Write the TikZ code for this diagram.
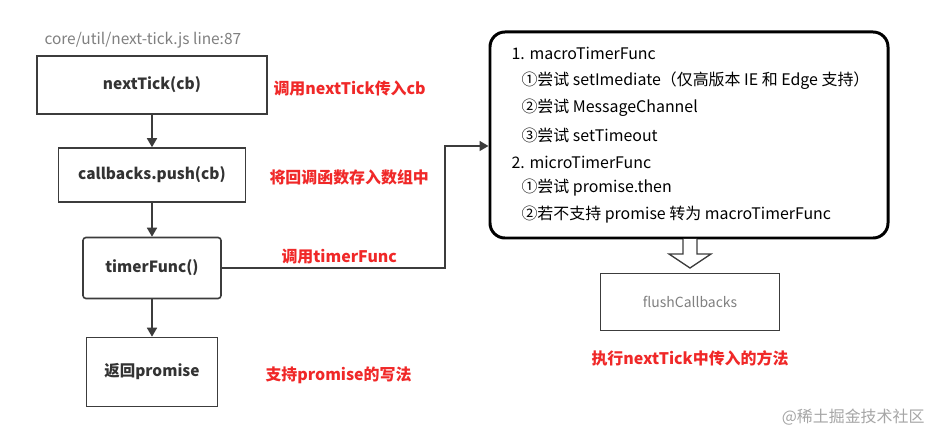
\documentclass[tikz,border=0pt]{standalone}
\usepackage{fontspec}
\setmainfont{Noto Sans CJK SC}
\usetikzlibrary{arrows.meta}
\definecolor{lblred}{RGB}{240,40,40}
\definecolor{boxline}{RGB}{60,60,60}
\tikzset{
  flow/.style={draw=boxline,line width=1.6pt,minimum height=#1,inner sep=0pt,font=\fontsize{15.5}{17}\selectfont\bfseries,text=black!80},
  red/.style={text=lblred,font=\fontsize{16}{18}\selectfont\bfseries,anchor=west},
  arr/.style={draw=boxline,line width=1.6pt,-{Triangle[length=9pt,width=10pt]}},
  item/.style={anchor=west,font=\fontsize{16}{18}\selectfont,text=black}
}
\begin{document}
\begin{tikzpicture}[x=1bp,y=-1bp]
\useasboundingbox[fill=white] (0,0) rectangle (939,444);
\node[anchor=west,text=gray,font=\fontsize{15.5}{17}\selectfont] (hdr) at (41,40) {core/util/next-tick.js line:87};
\node[flow=58bp,minimum width=230bp] (a) at (152,85) {nextTick(cb)};
\node[flow=54bp,minimum width=187bp] (b) at (152,175) {callbacks.push(cb)};
\node[flow=61bp,minimum width=138bp,rounded corners=3pt] (c) at (152,268) {timerFunc()};
\node[flow=69bp,minimum width=131bp] (d) at (152,372) {返回promise};
\draw[arr] (a) -- (b);
\draw[arr] (b) -- (c);
\draw[arr] (c) -- (d);
\node[red] (la) at (270,88) {调用nextTick传入cb};
\node[red] (lb) at (266,177) {将回调函数存入数组中};
\node[red] (lc) at (278,257) {调用timerFunc};
\node[red] (ld) at (262,375) {支持promise的写法};
\node[draw=black,line width=3pt,rounded corners=15pt,minimum width=398bp,minimum height=206bp] (big) at (689,135) {};
\coordinate (turn) at (445,146);
\draw[arr] (c.east) -- (c.east -| turn) -- (turn) -- (big.west |- turn);
\node[item] at (508,53) {1. macroTimerFunc};
\node[item] at (518,81) {①尝试 setImediate（仅高版本 IE 和 Edge 支持）};
\node[item] at (518,108) {②尝试 MessageChannel};
\node[item] at (518,135) {③尝试 setTimeout};
\node[item] at (508,162) {2. microTimerFunc};
\node[item] at (518,188) {①尝试 promise.then};
\node[item] at (518,215) {②若不支持 promise 转为 macroTimerFunc};
\node[draw=boxline,line width=1.3pt,minimum width=179bp,minimum height=57bp,text=gray,font=\fontsize{14}{16}\selectfont] (f) at (690,302) {flushCallbacks};
\draw[boxline,line width=1.3pt,fill=white] (683,239) -- (683,254) -- (669,254) -- (690,268) -- (711,254) -- (697,254) -- (697,239);
\node[red,anchor=center] (lf) at (690,358) {执行nextTick中传入的方法};
\node[anchor=east,text=black!35,font=\fontsize{16}{18}\selectfont] (wm) at (928,417) {@稀土掘金技术社区};
\end{tikzpicture}
\end{document}
